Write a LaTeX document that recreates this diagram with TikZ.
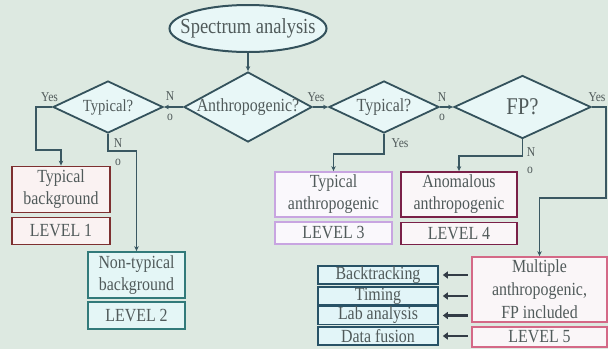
\documentclass[tikz,border=0pt]{standalone}
\usepackage{fontspec}
\setmainfont{Liberation Serif}[FakeStretch=0.86]
\usetikzlibrary{shapes.geometric,arrows.meta}
\definecolor{bgc}{RGB}{221,233,225}
\definecolor{dfill}{RGB}{232,247,247}
\definecolor{dcol}{RGB}{52,82,92}
\definecolor{tcol}{RGB}{80,90,90}
\definecolor{lcol}{RGB}{58,88,98}
\definecolor{c1}{RGB}{125,48,48}
\definecolor{f1}{RGB}{250,242,242}
\definecolor{c2}{RGB}{50,122,122}
\definecolor{f2}{RGB}{228,246,246}
\definecolor{c3}{RGB}{200,165,225}
\definecolor{f3}{RGB}{250,248,252}
\definecolor{c4}{RGB}{122,32,72}
\definecolor{f4}{RGB}{250,246,248}
\definecolor{c5}{RGB}{212,105,135}
\definecolor{f5}{RGB}{250,246,248}
\definecolor{c6}{RGB}{40,82,102}
\definecolor{f6}{RGB}{226,245,248}
\definecolor{acol}{RGB}{50,60,70}
\begin{document}
\begin{tikzpicture}[x=1pt,y=-1pt,
  dia/.style={shape=diamond, draw=dcol, fill=dfill, line width=1.8pt, inner sep=0pt},
  ell/.style={shape=ellipse, draw=dcol, fill=dfill, line width=2pt, inner sep=0pt},
  txt/.style={text=tcol, inner sep=0pt},
  box/.style={draw, line width=1.8pt, inner sep=0pt, align=center, text=tcol, font=\fontsize{18.5}{22}\selectfont},
  sbox/.style={draw=c6, fill=f6, line width=1.6pt, inner sep=0pt, text=tcol, minimum width=120pt, minimum height=18pt, font=\fontsize{18.5}{18}\selectfont},
  conn/.style={draw=lcol, line width=1.5pt, -{Stealth[length=5pt,width=4.5pt]}},
  fat/.style={draw=acol, line width=2.6pt, -{Triangle[length=5pt,width=7pt]}},
  lab/.style={text=tcol, font=\fontsize{13.5}{13.5}\selectfont, inner sep=0pt}]
\fill[bgc] (0,0) rectangle (608,349);
\useasboundingbox (0,0) rectangle (608,349);

% top ellipse and diamonds
\node[ell, minimum width=157pt, minimum height=47pt] (E) at (248,28.5) {};
\node[txt, font=\fontsize{21.5}{21.5}\selectfont] (Et) at (E) {Spectrum analysis};
\node[dia, minimum width=128pt, minimum height=70pt] (A) at (248,107) {};
\node[txt, font=\fontsize{18.5}{18.5}\selectfont] (At) at (A) {Anthropogenic?};
\node[dia, minimum width=110pt, minimum height=52pt] (T1) at (108,107) {};
\node[txt, font=\fontsize{17}{17}\selectfont] (T1t) at (T1) {Typical?};
\node[dia, minimum width=110pt, minimum height=52pt] (T2) at (384,107) {};
\node[txt, font=\fontsize{18.5}{18.5}\selectfont] (T2t) at (T2) {Typical?};
\node[dia, minimum width=137pt, minimum height=63pt] (FP) at (522.5,107) {};
\node[txt, font=\fontsize{24}{24}\selectfont] (FPt) at (FP) {FP?};

% result boxes
\node[box, draw=c1, fill=f1, minimum width=98pt, minimum height=46pt] (B1) at (61,189.5) {Typical\\background};
\node[box, draw=c1, fill=f1, minimum width=98pt, minimum height=27pt] (L1) at (61,231) {LEVEL 1};
\node[box, draw=c2, fill=f2, minimum width=97pt, minimum height=46pt] (B2) at (136.5,275) {Non-typical\\background};
\node[box, draw=c2, fill=f2, minimum width=97pt, minimum height=27pt] (L2) at (136.5,315.5) {LEVEL 2};
\node[box, draw=c3, fill=f3, minimum width=117pt, minimum height=45pt] (B3) at (333.5,194.5) {Typical\\anthropogenic};
\node[box, draw=c3, fill=f3, minimum width=117pt, minimum height=22pt] (L3) at (333.5,233) {LEVEL 3};
\node[box, draw=c4, fill=f4, minimum width=116pt, minimum height=45pt] (B4) at (459,194.5) {Anomalous\\anthropogenic};
\node[box, draw=c4, fill=f4, minimum width=116pt, minimum height=22pt] (L4) at (459,233.5) {LEVEL 4};
\node[box, draw=c5, fill=f5, minimum width=135pt, minimum height=65pt, font=\fontsize{18.5}{23}\selectfont] (B5) at (539.5,289.5) {Multiple\\anthropogenic,\\FP included};
\node[box, draw=c5, fill=f5, minimum width=135pt, minimum height=20pt] (L5) at (539.5,337) {LEVEL 5};

% small boxes
\node[sbox] (S1) at (378,275) {Backtracking};
\node[sbox] (S2) at (378,296) {Timing};
\node[sbox] (S3) at (378,315.5) {Lab analysis};
\node[sbox] (S4) at (378,336) {Data fusion};

% connectors
\draw[conn] (E.south) -- (A.north);
\draw[conn] (A.west) -- (T1.east);
\draw[conn] (A.east) -- (T2.west);
\draw[conn] (T2.east) -- (FP.west);
\draw[conn] (T1.west) -| (36,150) -| (B1.north);
\draw[conn] (T1.south) -- ++(0,17) -| (B2.north);
\draw[conn] (T2.south) -- ++(0,20) -| (B3.north);
\draw[conn] (FP.south) -- ++(0,16.5) -| (B4.north);
\draw[conn] (FP.east) -| (606,198) -| (B5.north);

% fat arrows
\foreach \s in {S1,S2,S3,S4}{
  \draw[fat] ([xshift=29pt]\s.east) -- ([xshift=4pt]\s.east);
}

% labels
\node[lab] (y1) at (49.5,97) {Yes};
\node[lab] (n1) at (170,96.5) {N};
\node[lab] (o1) at (170,117) {o};
\node[lab] (n2) at (118,143) {N};
\node[lab] (o2) at (118,162) {o};
\node[lab] (y2) at (316,97) {Yes};
\node[lab] (n3) at (442,97) {N};
\node[lab] (o3) at (442,117) {o};
\node[lab] (y3) at (400,143) {Yes};
\node[lab] (n4) at (531,152) {N};
\node[lab] (o4) at (530,170) {o};
\node[lab] (y4) at (597,97) {Yes};
\end{tikzpicture}
\end{document}
